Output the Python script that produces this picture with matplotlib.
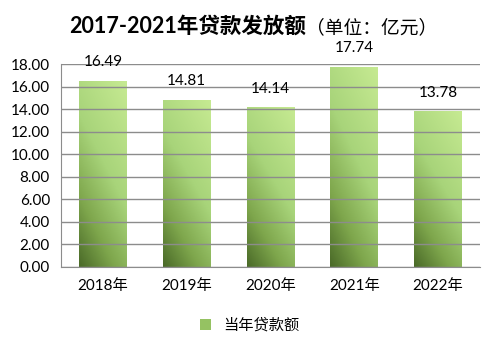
import matplotlib.pyplot as plt
import numpy as np
from matplotlib.colors import LinearSegmentedColormap
from matplotlib.patches import Patch

plt.rcParams['font.family'] = ['Lato', 'Noto Sans CJK SC', 'DejaVu Sans']

years = ['2018年', '2019年', '2020年', '2021年', '2022年']
loans = [16.49, 14.81, 14.14, 17.74, 13.78]
series_name = '当年贷款额'

# light green at top right, dark green at bottom left
green = LinearSegmentedColormap.from_list(
    'green', [(0, '#4a6a28'), (0.25, '#7ea64c'), (0.55, '#a8d47a'), (1, '#c6ea92')])

fig = plt.figure(figsize=(5, 3.52), dpi=100)
ax = fig.add_axes([0.122, 0.2415, 0.838, 0.5765])

x = np.arange(len(years))
width = 0.57
bars = ax.bar(x, loans, width, color='none', zorder=2)

# diagonal gradient per bar
u, v = np.meshgrid(np.linspace(0, 1, 60), np.linspace(0, 1, 200))
grad = (u * 0.8 + v * 1.6) / 2.4
for b in bars:
    x0, y0 = b.get_x(), b.get_y()
    ax.imshow(grad, cmap=green, origin='lower', aspect='auto', zorder=1,
              extent=[x0, x0 + b.get_width(), y0, y0 + b.get_height()])

for xi, val in zip(x, loans):
    ax.annotate(f'{val:.2f}', (xi, val), xytext=(0, 13.5), textcoords='offset points',
                ha='center', va='center', fontsize=11)

ax.set_xlim(-0.5, len(years) - 0.5)
ax.set_ylim(0, 18)
ax.set_yticks(np.arange(0, 18.1, 2))
ax.set_yticklabels([f'{t:.2f}' for t in np.arange(0, 18.1, 2)])
ax.set_xticks(x)
ax.set_xticklabels(years)
ax.tick_params(axis='y', length=0, pad=8, labelsize=11)
ax.tick_params(axis='x', length=0, pad=9, labelsize=11)
ax.grid(axis='y', color='#8c8c8c', lw=1, zorder=3)
ax.set_axisbelow(False)
for s in ['top', 'right']:
    ax.spines[s].set_visible(False)
for s in ['left', 'bottom']:
    ax.spines[s].set_color('#8c8c8c')
    ax.spines[s].set_zorder(3)

fig.text(0.612, 0.925, '2017-2021年贷款发放额', fontsize=15.5, fontweight='bold',
         ha='right', va='center')
fig.text(0.612, 0.92, '（单位：亿元）', fontsize=13.5, ha='left', va='center',
         family=['Noto Sans CJK SC'])

fig.legend(handles=[Patch(facecolor='#95c262')], labels=[series_name],
           loc='center', bbox_to_anchor=(0.5, 0.075), frameon=False,
           fontsize=11, handlelength=0.7, handleheight=0.7, handletextpad=0.8)

fig.savefig('out.png', dpi=100)
